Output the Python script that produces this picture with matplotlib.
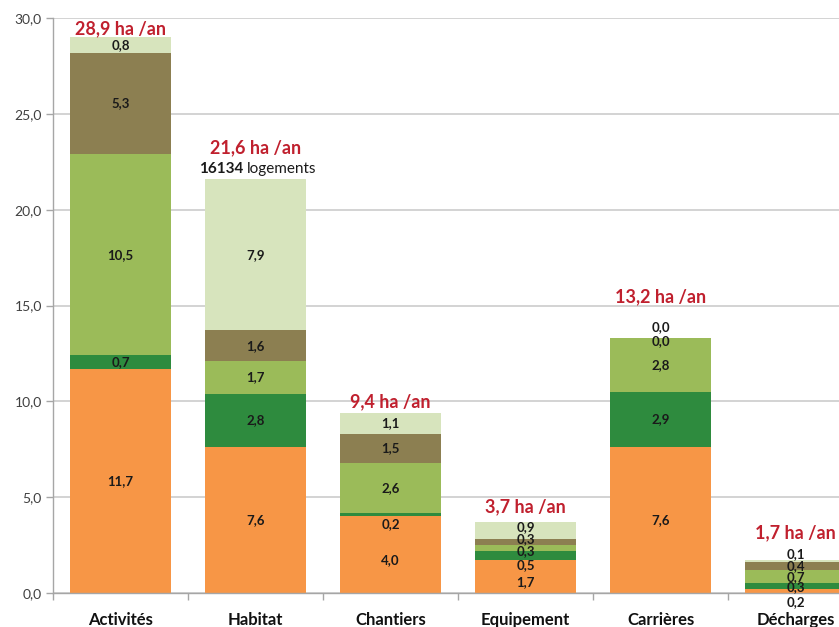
import numpy as np
import matplotlib.pyplot as plt
from matplotlib.ticker import FuncFormatter, MultipleLocator

plt.rcParams['font.family'] = ['Lato', 'DejaVu Sans']

# data
categories = ['Activités', 'Habitat', 'Chantiers', 'Equipement', 'Carrières', 'Décharges']
orange = [11.7, 7.6, 4.0, 1.7, 7.6, 0.2]
dark_green = [0.7, 2.8, 0.2, 0.5, 2.9, 0.3]
light_green = [10.5, 1.7, 2.6, 0.3, 2.8, 0.7]
brown = [5.3, 1.6, 1.5, 0.3, 0.0, 0.4]
pale_green = [0.8, 7.9, 1.1, 0.9, 0.0, 0.1]
totals = [28.9, 21.6, 9.4, 3.7, 13.2, 1.7]
logements = 16134

series = [orange, dark_green, light_green, brown, pale_green]
colors = ['#F79646', '#2E8B3E', '#9BBB59', '#8C7F51', '#D7E4BD']

# label nudges in pixels (positive = down), for crowded small segments
nudge = {(2, 0): 5, (2, 1): 10,
         (3, 0): 5, (3, 1): 9, (3, 2): 3, (3, 3): -3, (3, 4): -4,
         (4, 3): 3, (4, 4): -11,
         (5, 0): 11, (5, 1): 1, (5, 4): -7}
# height of the "ha /an" label above the bar top, in pixels
total_lift = [10, 31, 11, 15, 43, 28]

fig = plt.figure(figsize=(8.39, 6.27), dpi=100)
ax = fig.add_axes([53 / 839, 34 / 627, 810 / 839, 575 / 627])

x = np.arange(len(categories))
bottom = np.zeros(len(categories))
for si, vals in enumerate(series):
    vals = np.array(vals)
    ax.bar(x, vals, 0.75, bottom=bottom, color=colors[si], zorder=2)
    for i, v in enumerate(vals):
        ax.annotate(f'{v:.1f}'.replace('.', ','), (x[i], bottom[i] + v / 2),
                    xytext=(0, -nudge.get((i, si), 0)), textcoords='offset pixels',
                    ha='center', va='center', fontsize=9.5, fontweight='bold',
                    color='#1a1a1a', zorder=3)
    bottom += vals

for i, t in enumerate(totals):
    ax.annotate(f'{t:.1f} ha /an'.replace('.', ','), (x[i], t),
                xytext=(0, total_lift[i]), textcoords='offset pixels',
                ha='center', va='center', fontsize=13, fontweight='bold',
                color='#C0202E')

ax.annotate(str(logements), (x[1], totals[1]), xytext=(-12, 10), textcoords='offset pixels',
            ha='right', va='center', fontsize=11, fontweight='bold', color='#1a1a1a')
ax.annotate('logements', (x[1], totals[1]), xytext=(-9, 10), textcoords='offset pixels',
            ha='left', va='center', fontsize=11, color='#1a1a1a')

ax.set_xlim(-0.5, len(categories) - 0.5)
ax.set_ylim(0, 30)
ax.yaxis.set_major_locator(MultipleLocator(5))
ax.yaxis.set_major_formatter(FuncFormatter(lambda v, p: f'{v:.1f}'.replace('.', ',')))
ax.grid(axis='y', color='#D0D0D0', linewidth=1.3, zorder=0)
ax.set_axisbelow(True)

ax.set_xticks(x)
ax.set_xticklabels(categories, fontsize=12, fontweight='bold', color='#111111')
ax.set_xticks(np.arange(len(categories) + 1) - 0.5, minor=True)
ax.tick_params(axis='x', which='major', length=0, pad=14)
ax.tick_params(axis='x', which='minor', length=5, color='#A6A6A6', width=1)
ax.tick_params(axis='y', length=5, color='#A6A6A6', width=1, labelsize=10,
               labelcolor='#404040', pad=3)

for s in ['top', 'right']:
    ax.spines[s].set_visible(False)
for s in ['left', 'bottom']:
    ax.spines[s].set_color('#A6A6A6')
    ax.spines[s].set_linewidth(1)

fig.savefig('out.png', dpi=100)
